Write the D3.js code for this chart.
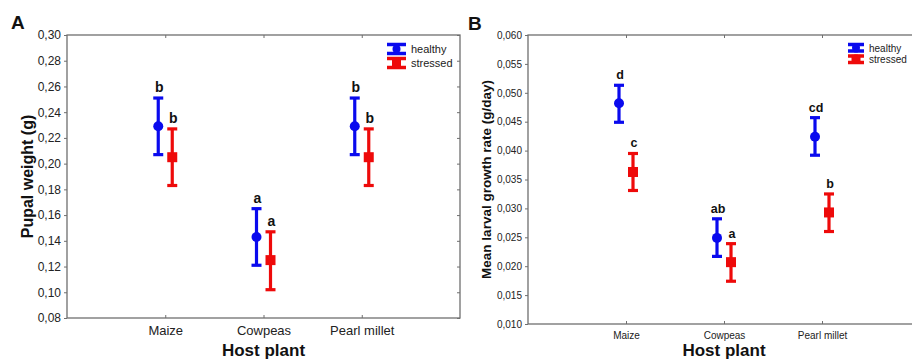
<!DOCTYPE html>
<html lang="en">
<head>
<meta charset="utf-8">
<title>Pupal weight and larval growth rate</title>
<script src="https://cdn.jsdelivr.net/npm/d3@7"></script>
<style>
  body { margin: 0; background: #fff; }
  svg { font-family: "Liberation Sans", Arial, sans-serif; }
</style>
</head>
<body>
<script>
// categories
var hosts = ["Maize", "Cowpeas", "Pearl millet"];

// panel A - pupal weight (g): mean, lower, upper
var pupalHealthy      = [0.229, 0.143, 0.229];
var pupalHealthyLow   = [0.207, 0.121, 0.207];
var pupalHealthyHigh  = [0.251, 0.165, 0.251];
var pupalStressed     = [0.205, 0.125, 0.205];
var pupalStressedLow  = [0.183, 0.102, 0.183];
var pupalStressedHigh = [0.227, 0.147, 0.227];
var pupalLettersH = ["b", "a", "b"];
var pupalLettersS = ["b", "a", "b"];
var pupalTicks = [0.08, 0.10, 0.12, 0.14, 0.16, 0.18, 0.20, 0.22, 0.24, 0.26, 0.28, 0.30];

// panel B - mean larval growth rate (g/day)
var growthHealthy      = [0.0482, 0.0249, 0.0424];
var growthHealthyLow   = [0.0449, 0.0217, 0.0392];
var growthHealthyHigh  = [0.0513, 0.0282, 0.0457];
var growthStressed     = [0.0363, 0.0207, 0.0293];
var growthStressedLow  = [0.0331, 0.0174, 0.0260];
var growthStressedHigh = [0.0395, 0.0239, 0.0325];
var growthLettersH = ["d", "ab", "cd"];
var growthLettersS = ["c", "a", "b"];
var growthTicks = [0.010, 0.015, 0.020, 0.025, 0.030, 0.035, 0.040, 0.045, 0.050, 0.055, 0.060];

var blue = "#0a0aee", red = "#ee0a0a", axisCol = "#6f6f6f";

var svg = d3.select("body").append("svg")
  .attr("width", 912).attr("height", 360);

function drawPanel(o) {
  var g = svg.append("g");
  var x = d3.scalePoint().domain(["", ...hosts, " "]).range([o.left, o.right]);
  var y = d3.scaleLinear().domain(o.domain).range([o.bottom, o.top]);

  // frame
  g.append("rect")
    .attr("x", o.left).attr("y", o.top)
    .attr("width", o.right - o.left).attr("height", o.bottom - o.top)
    .attr("fill", "none").attr("stroke", axisCol).attr("stroke-width", 1.3);

  // y ticks + labels
  g.append("g").attr("transform", "translate(" + o.left + ",0)")
    .call(d3.axisLeft(y).tickValues(o.ticks).tickSize(3).tickPadding(3)
      .tickFormat(function(d) { return d3.format("." + o.dec + "f")(d).replace(".", ","); }))
    .call(function(a) {
      a.select(".domain").remove();
      a.selectAll("line").attr("stroke", axisCol);
      a.selectAll("text").attr("font-size", o.tickFont).attr("fill", "#222");
    });
  // right side inner ticks
  g.append("g").attr("transform", "translate(" + o.right + ",0)")
    .call(d3.axisRight(y).tickValues(o.ticks).tickSize(-3).tickFormat(""))
    .call(function(a) { a.select(".domain").remove(); a.selectAll("line").attr("stroke", axisCol); });

  // x ticks (inner) + labels
  g.append("g").attr("transform", "translate(0," + o.bottom + ")")
    .call(d3.axisBottom(x).tickValues(hosts).tickSize(-3).tickPadding(8))
    .call(function(a) {
      a.select(".domain").remove();
      a.selectAll("line").attr("stroke", axisCol);
      a.selectAll("text").attr("font-size", o.catFont).attr("fill", "#222");
    });
  g.append("g").attr("transform", "translate(0," + o.top + ")")
    .call(d3.axisTop(x).tickValues(hosts).tickSize(-3).tickFormat(""))
    .call(function(a) { a.select(".domain").remove(); a.selectAll("line").attr("stroke", axisCol); });

  // titles
  g.append("text").attr("x", (o.left + o.xTitleCenter) / 2).attr("y", o.xTitleY)
    .attr("text-anchor", "middle").attr("font-weight", "bold").attr("font-size", 17)
    .attr("fill", "#111").text("Host plant");
  g.append("text")
    .attr("transform", "translate(" + o.yTitleX + "," + ((o.top + o.bottom) / 2) + ") rotate(-90)")
    .attr("text-anchor", "middle").attr("font-weight", "bold").attr("font-size", o.yTitleFont)
    .attr("fill", "#111").text(o.yTitle);
  g.append("text").attr("x", o.labelX).attr("y", o.labelY)
    .attr("font-weight", "bold").attr("font-size", 19).attr("fill", "#111").text(o.label);

  // series
  var series = [
    { mean: o.h, lo: o.hl, hi: o.hh, letters: o.lh, col: blue, dx: -7, shape: "circle" },
    { mean: o.s, lo: o.sl, hi: o.sh, letters: o.ls, col: red, dx: 7, shape: "square" }
  ];
  series.forEach(function(s) {
    var sg = g.append("g");
    var pts = hosts.map(function(c, i) {
      return { cx: x(c) + s.dx, m: s.mean[i], lo: s.lo[i], hi: s.hi[i], t: s.letters[i] };
    });
    var e = sg.selectAll("g.pt").data(pts).enter().append("g");
    e.append("line").attr("x1", function(d) { return d.cx; }).attr("x2", function(d) { return d.cx; })
      .attr("y1", function(d) { return y(d.lo); }).attr("y2", function(d) { return y(d.hi); })
      .attr("stroke", s.col).attr("stroke-width", 3.2);
    [ "lo", "hi" ].forEach(function(k) {
      e.append("line").attr("x1", function(d) { return d.cx - 5; }).attr("x2", function(d) { return d.cx + 5; })
        .attr("y1", function(d) { return y(d[k]); }).attr("y2", function(d) { return y(d[k]); })
        .attr("stroke", s.col).attr("stroke-width", 3.2);
    });
    if (s.shape === "circle") {
      e.append("circle").attr("cx", function(d) { return d.cx; }).attr("cy", function(d) { return y(d.m); })
        .attr("r", 5).attr("fill", s.col);
    } else {
      e.append("rect").attr("x", function(d) { return d.cx - 5; }).attr("y", function(d) { return y(d.m) - 5; })
        .attr("width", 10).attr("height", 10).attr("fill", s.col);
    }
    e.append("text").attr("x", function(d) { return d.cx + 1; }).attr("y", function(d) { return y(d.hi) - 6; })
      .attr("text-anchor", "middle").attr("font-weight", "bold").attr("font-size", o.letterFont)
      .attr("fill", "#111").text(function(d) { return d.t; });
  });

  // legend
  var lg = g.append("g").attr("transform", "translate(" + o.legX + "," + o.legY + ")");
  [{ col: blue, t: "healthy", shape: "circle" }, { col: red, t: "stressed", shape: "square" }].forEach(function(it, i) {
    var y0 = i * o.legStep;
    var w = o.legW, hgt = o.legStep - 2, cx = w / 2;
    lg.append("line").attr("x1", 0).attr("x2", w).attr("y1", y0 + 1.5).attr("y2", y0 + 1.5)
      .attr("stroke", it.col).attr("stroke-width", 3.5);
    lg.append("line").attr("x1", 0).attr("x2", w).attr("y1", y0 + hgt - 1.5).attr("y2", y0 + hgt - 1.5)
      .attr("stroke", it.col).attr("stroke-width", 3.5);
    lg.append("line").attr("x1", cx).attr("x2", cx).attr("y1", y0).attr("y2", y0 + hgt)
      .attr("stroke", it.col).attr("stroke-width", 3.5);
    if (it.shape === "circle") {
      lg.append("circle").attr("cx", cx).attr("cy", y0 + hgt / 2).attr("r", 4).attr("fill", it.col);
    } else {
      lg.append("rect").attr("x", cx - 4.5).attr("y", y0 + hgt / 2 - 4.5).attr("width", 9).attr("height", 9).attr("fill", it.col);
    }
    lg.append("text").attr("x", w + 5).attr("y", y0 + hgt / 2 + 4)
      .attr("font-size", o.legFont).attr("fill", "#222").text(it.t);
  });
}

drawPanel({
  left: 67, right: 460, top: 35, bottom: 318,
  domain: [0.08, 0.30], ticks: pupalTicks, dec: 2,
  tickFont: 12, catFont: 13, letterFont: 14, yTitleFont: 16, legFont: 11,
  xTitleCenter: 460, xTitleY: 356, yTitleX: 33, yTitle: "Pupal weight (g)",
  label: "A", labelX: 11, labelY: 29,
  h: pupalHealthy, hl: pupalHealthyLow, hh: pupalHealthyHigh,
  s: pupalStressed, sl: pupalStressedLow, sh: pupalStressedHigh,
  lh: pupalLettersH, ls: pupalLettersS,
  legX: 387, legY: 43, legStep: 14, legW: 19
});

drawPanel({
  left: 528, right: 920, top: 35, bottom: 324,
  domain: [0.010, 0.060], ticks: growthTicks, dec: 3,
  tickFont: 10, catFont: 10, letterFont: 12.5, yTitleFont: 13.5, legFont: 10,
  xTitleCenter: 920, xTitleY: 356, yTitleX: 491, yTitle: "Mean larval growth rate (g/day)",
  label: "B", labelX: 468, labelY: 30,
  h: growthHealthy, hl: growthHealthyLow, hh: growthHealthyHigh,
  s: growthStressed, sl: growthStressedLow, sh: growthStressedHigh,
  lh: growthLettersH, ls: growthLettersS,
  legX: 848, legY: 43, legStep: 11.5, legW: 16
});
</script>
</body>
</html>
